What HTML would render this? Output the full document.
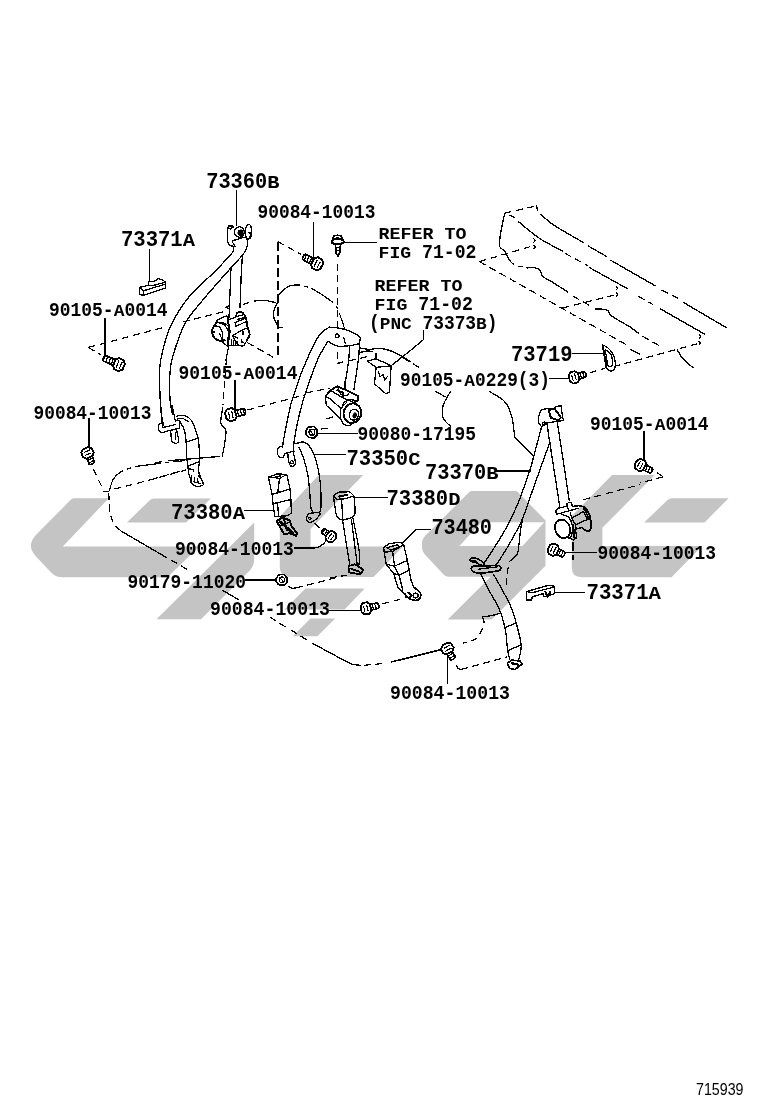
<!DOCTYPE html>
<html><head><meta charset="utf-8"><title>Seat belt diagram</title>
<style>
html,body{margin:0;padding:0;background:#fff;}
body{width:760px;height:1112px;overflow:hidden;font-family:"Liberation Mono",monospace;}
svg{display:block;position:absolute;left:0;top:0;}
.wm{fill:#c4c4c4;stroke:none;}
.t{font-family:"Liberation Mono",monospace;font-weight:bold;fill:#000;}
.l{fill:none;stroke:#000;stroke-width:1.3;stroke-linecap:round;stroke-linejoin:round;}
.f{fill:#000;stroke:#000;stroke-width:0.5;}
.w{fill:#fff;stroke:#000;stroke-width:1.3;stroke-linejoin:round;}
.d{fill:none;stroke:#000;stroke-width:1.2;stroke-dasharray:7 4.5;}
.d2{fill:none;stroke:#000;stroke-width:1.2;stroke-dasharray:22 7;}
.dd{fill:none;stroke:#000;stroke-width:1.2;stroke-dasharray:26 4 4 4;}
.dh{fill:none;stroke:#000;stroke-width:2;stroke-dasharray:9 4;}
.ld{fill:none;stroke:#000;stroke-width:1.2;}
#art{shape-rendering:crispEdges;}
#labels{filter:grayscale(1);}
</style></head><body>
<svg width="760" height="1112" viewBox="0 0 760 1112">
<!-- WATERMARK -->
<g class="wm" id="wm">
<!-- glyph 1 -->
<path d="M74,498.2 L108.8,498.2 L62.8,546.4 L199,546.4 L167.6,577.2 L62,577.2 Q56,577.2 51.6,573 L36.5,557 Q25,545.8 37.1,533.7 L71,499.6 Q72.5,498.2 74,498.2 Z"/>
<path d="M254.2,522.5 L254.2,559 Q254.2,566 249.5,570.7 L201,619.3 L156.5,619.3 Z"/>
<path d="M154,498.4 L210.8,498.4 L186.1,522.5 L126.9,522.5 L150,500 Q151.8,498.4 154,498.4 Z"/>
<!-- glyph 2 -->
<path d="M318.8,475 L363.2,475 L310.5,529 L310.5,546.4 L403,546.4 L373.5,577 L290,577 Q279.8,577 279.8,567 L279.8,516.5 Z"/>
<path d="M305.5,588.6 L364.7,588.6 L344.5,609.4 L284.5,609.4 Z"/>
<path d="M310.5,618.4 L335.1,618.4 L317.4,636.3 L292.7,636.3 Z"/>
<!-- glyph 3 -->
<path d="M472,491 L516.8,491 L545.5,520.5 L545.5,565.8 L491.7,619.6 L447.7,619.6 L490.6,576.7 L448.5,576.7 Q446,576.7 444,575 L424.5,554 Q422,551 422,547 L422,543 Q422,539 425.5,535.5 L469,492.3 Q470.5,491 472,491 Z M481.5,522.3 L459.3,546 L522.4,546 L544.3,522.3 Z" fill-rule="evenodd"/>
<!-- glyph 4 -->
<path d="M612.1,475 L654.7,475 L602.4,527.8 L602.4,546 L702,546 L671.5,577.2 L581.5,577.2 Q571.8,577.2 571.8,567.3 L571.8,516 Z"/>
<!-- dash -->
<path d="M672,498.2 L728.6,498.2 L704.5,522.6 L644.1,522.6 L667.5,500 Q669.5,498.2 672,498.2 Z"/>
</g>

<g id="art">
<path class="ld" d="M236.4,190.0 L236.4,226.0"/>
<path class="l" d="M233.7,246.6 C233.1,246.3 231.2,245.9 230.1,245.2 C229.1,244.4 227.9,243.4 227.4,241.8 C226.9,240.2 227.2,237.6 227.2,235.5 C227.2,233.5 227.2,231.2 227.5,229.6 C227.8,228.0 228.3,226.6 228.9,225.9 C229.6,225.2 230.7,225.1 231.5,225.4 C232.3,225.7 233.3,227.3 233.7,227.6"/>
<circle class="l" cx="230.4" cy="227.5" r="1.6"/>
<ellipse class="l" cx="239.4" cy="232.0" rx="4.9" ry="5.2" transform="rotate(0 239.4 232.0)"/>
<ellipse class="f" cx="240.6" cy="232.8" rx="2.8" ry="3.3" transform="rotate(0 240.6 232.8)"/>
<ellipse class="l" cx="248.3" cy="231.8" rx="2.9" ry="7.3" transform="rotate(5 248.3 231.8)"/>
<path class="l" d="M249.5,232.8 C249.7,233.0 250.5,233.2 250.7,233.9 C250.8,234.7 250.6,236.8 250.4,237.5 C250.2,238.2 249.5,238.2 249.3,238.3" style="stroke-width:2.2"/>
<path class="l" d="M233.7,240.4 L246.3,236.7"/>
<path class="l" d="M233.7,240.4 C233.5,240.6 232.5,240.8 232.5,241.4 C232.5,242.1 233.2,243.4 233.7,244.2 C234.1,245.1 234.9,246.2 235.1,246.6"/>
<path class="l" d="M233.7,246.6 C233.6,247.1 233.5,248.8 233.4,249.7 C233.2,250.6 233.0,251.6 232.9,251.9"/>
<path class="l" d="M247.1,239.5 C247.2,240.3 247.7,242.5 247.5,244.2 C247.3,245.9 246.8,247.9 245.9,249.7 C245.1,251.6 243.0,254.5 242.4,255.4"/>
<path class="l" d="M232.9,252.0 C230.2,255.0 223.6,262.6 216.4,270.0 C209.2,277.4 197.1,287.1 189.5,296.3 C181.9,305.5 175.5,316.1 171.0,325.3 C166.5,334.5 164.4,344.2 162.5,351.6 C160.6,359.1 159.9,363.6 159.5,370.0 C159.1,376.4 159.6,383.0 159.8,390.0 C160.1,397.0 160.4,406.2 161.0,412.0 C161.6,417.8 163.1,422.8 163.5,425.0"/>
<path class="l" d="M242.4,255.4 C240.2,257.8 235.6,262.5 229.0,270.0 C222.4,277.5 209.8,291.5 202.6,300.3 C195.3,309.1 190.1,314.5 185.5,322.6 C180.9,330.7 177.6,341.1 175.0,349.0 C172.4,356.9 171.0,361.6 170.2,370.0 C169.4,378.4 169.6,392.2 170.0,399.5 C170.4,406.8 172.1,411.6 172.5,414.0"/>
<path class="l" d="M242.4,256.0 L241.4,270.0 L240.0,308.0"/>
<path class="l" d="M231.0,268.0 L229.0,318.0"/>
<path class="l" d="M229.5,305.1 L226.0,307.4 L229.0,309.0"/>
<path class="l" d="M217.5,319.7 L226.7,315.8 L228.6,320.1 L235.0,317.1"/>
<path class="l" d="M217.5,319.7 C217.3,320.2 217.2,321.5 216.6,322.6 C216.0,323.7 214.6,324.7 213.8,326.3 C213.0,327.9 211.8,330.3 212.0,332.3 C212.1,334.3 213.4,336.8 214.7,338.3 C216.1,339.7 218.6,340.7 220.3,341.1 C222.0,341.4 224.1,340.4 224.9,340.3" style="stroke-width:1.9"/>
<path class="l" d="M215.2,325.9 C216.0,326.1 218.6,326.1 219.8,327.4 C221.0,328.7 222.2,331.7 222.6,333.7 C222.9,335.7 222.0,338.4 221.9,339.4"/>
<path class="l" d="M236.8,316.4 L243.3,314.8"/>
<path class="l" d="M237.8,319.4 L244.8,317.3"/>
<path class="l" d="M235.5,341.1 L235.5,344.9"/>
<path class="l" d="M237.5,341.5 L237.5,345.1"/>
<path class="l" d="M213.8,332.0 L211.5,332.0" style="stroke-width:2"/>
<path class="l" d="M218.4,322.6 C219.4,323.0 222.4,323.1 224.1,324.7 C225.8,326.2 228.0,329.4 228.6,331.8 C229.1,334.3 227.8,338.0 227.6,339.2"/>
<path class="l" d="M221.4,322.3 C222.4,322.8 226.1,323.8 227.6,325.4 C229.2,327.0 230.1,330.8 230.6,331.8"/>
<path class="l" d="M219.8,333.7 C220.1,334.5 220.9,337.2 221.6,338.3 C222.4,339.4 223.7,340.0 224.1,340.3"/>
<path class="l" d="M227.6,318.0 L229.7,331.8 L227.6,346.1" style="stroke-width:2"/>
<path class="l" d="M236.8,313.0 C237.6,312.8 240.1,311.5 241.4,312.0 C242.8,312.6 244.2,314.4 245.1,316.2 C246.1,317.9 246.6,320.8 247.0,322.6 C247.4,324.5 247.1,325.2 247.5,327.2 C248.0,329.2 249.8,332.5 249.7,334.6 C249.6,336.8 247.4,339.2 247.0,340.1" style="stroke-width:1.9"/>
<path class="l" d="M235.0,322.6 L244.2,318.8"/>
<path class="l" d="M235.9,326.5 L245.3,321.9"/>
<path class="l" d="M235.0,322.6 L235.9,326.5"/>
<path class="l" d="M236.8,313.0 L235.5,317.1"/>
<path class="l" d="M232.4,335.5 L246.1,328.2"/>
<path class="l" d="M232.4,335.5 C232.9,336.4 234.4,339.5 235.5,341.1 C236.5,342.6 237.4,344.1 238.7,344.9 C240.0,345.7 241.9,346.6 243.3,345.8 C244.7,345.0 246.4,341.1 247.0,340.1"/>
<path class="l" d="M235.0,336.9 L237.8,338.3"/>
<path class="l" d="M241.6,339.9 L241.6,342.0 L243.5,342.2"/>
<path class="l" d="M243.0,331.4 L243.0,334.6" style="stroke-width:2"/>
<path class="l" d="M222.1,342.0 L227.6,346.2 L232.2,345.3 L238.7,345.3"/>
<path class="l" d="M231.5,339.2 L231.5,344.9"/>
<path class="l" d="M233.5,341.1 L233.5,344.9"/>
<path class="l" d="M228.6,346.6 L225.8,360.6"/>
<path class="l" d="M160.7,405.0 L162.4,426.3"/>
<path class="l" d="M171.9,405.0 L175.5,421.6"/>
<path class="l" d="M175.5,421.6 C175.7,421.3 176.3,420.2 177.0,420.2 C177.7,420.2 179.1,420.3 179.6,421.6 C180.1,422.9 179.8,427.0 179.8,428.1"/>
<path class="l" d="M179.8,428.1 L166.6,431.3 L161.2,432.9"/>
<path class="l" d="M162.4,422.8 C161.9,423.0 159.9,423.4 159.2,424.2 C158.6,425.0 158.5,426.4 158.5,427.5 C158.5,428.6 158.8,429.9 159.2,430.8 C159.7,431.7 160.9,432.6 161.2,432.9"/>
<path class="l" d="M163.0,427.5 L175.5,424.5"/>
<path class="l" d="M170.7,431.6 C170.8,432.7 171.1,436.4 171.3,438.2 C171.6,439.9 171.3,441.1 172.3,441.9 C173.2,442.8 175.9,443.4 177.0,443.1 C178.1,442.8 178.7,442.2 178.7,440.1 C178.6,437.9 177.0,432.1 176.6,430.5"/>
<path class="l" d="M175.5,432.5 L175.5,439.3"/>
<path class="l" d="M176.6,416.2 C177.9,416.1 181.9,414.7 184.3,415.4 C186.8,416.1 189.7,418.2 191.4,420.4 C193.2,422.6 193.9,425.8 195.0,428.7 C196.1,431.5 197.3,434.6 198.0,437.6 C198.7,440.5 198.9,442.6 199.1,446.4 C199.4,450.3 199.6,456.5 199.5,460.7 C199.4,464.8 198.1,468.0 198.6,471.3 C199.0,474.7 201.3,478.7 202.1,480.8 C202.9,482.9 203.3,483.6 203.5,484.1"/>
<path class="l" d="M177.2,419.0 C178.2,418.9 181.4,418.2 183.2,418.6 C184.9,419.1 187.1,421.1 187.9,421.6"/>
<path class="l" d="M179.6,421.0 C180.4,422.5 183.3,426.4 184.3,429.9 C185.4,433.3 185.7,437.4 186.1,441.7 C186.5,446.1 186.4,451.8 186.7,455.9 C187.0,460.1 187.5,463.4 187.9,466.6 C188.3,469.7 188.5,472.3 189.1,474.9 C189.7,477.4 191.1,480.8 191.4,482.0"/>
<path class="l" d="M186.1,442.3 L198.0,438.2"/>
<path class="l" d="M188.5,466.0 L198.8,461.8"/>
<path class="l" d="M191.7,476.1 C191.5,477.0 190.2,480.3 190.9,482.0 C191.5,483.7 193.8,485.6 195.6,486.2 C197.4,486.9 200.2,486.2 201.5,485.8 C202.8,485.3 204.0,485.1 203.5,483.4 C203.1,481.7 199.6,477.1 198.8,475.8"/>
<path class="l" d="M194.4,477.8 L194.1,482.0 L197.4,482.6"/>
<path class="l" d="M197.4,479.0 L198.6,483.2 L200.9,483.2"/>
<path class="l" d="M189.1,468.9 L193.2,469.5 L193.2,471.3"/>
<path class="l" d="M168.4,460.7 L219.3,456.5"/>
<path class="l" d="M155.3,463.0 L161.8,461.6"/>
<path class="d" d="M151.2,479.6 L183.8,470.1"/>
<path class="l" d="M222.8,407.4 C222.5,409.9 220.3,418.9 220.8,422.8 C221.3,426.6 225.2,426.9 225.8,430.5 C226.4,434.0 225.2,439.7 224.6,444.1 C224.0,448.4 222.6,454.4 222.2,456.5"/>
<path class="l" d="M235.0,381.0 L235.0,409.0" style="stroke-width:2"/>
<g transform="translate(230.8 414.7) rotate(-13) scale(1.0)"><path d="M4,-3.2 L14,-3 Q16,0 14,3 L4,3.2 Z" fill="#fff" stroke="#000" stroke-width="1.7" stroke-linejoin="round"/><path d="M7,-3 L7.6,3" stroke="#000" stroke-width="1.3" fill="none"/><path d="M10,-3 L10.6,3" stroke="#000" stroke-width="1.3" fill="none"/><path d="M13,-3 L13.6,3" stroke="#000" stroke-width="1.3" fill="none"/><path d="M-5.2,-3 L-2.5,-6 L2.5,-6.2 L5,-3.5 L5.2,3.5 L2.5,6.2 L-2.5,6 L-5.2,3 Z" fill="#fff" stroke="#000" stroke-width="1.9" stroke-linejoin="round"/><path d="M-1.8,-3.5 L-1.8,3.5 M1.6,-3.8 L1.6,3.8" stroke="#000" stroke-width="1.2" fill="none"/></g>
<path class="l" d="M149.5,249.5 L149.5,281.8"/>
<path class="l" d="M139.5,287.4 L148.5,285.2 L148.5,281.8 L152.1,281.8 L156.5,280.4 L157.8,278.5 L161.3,279.5 L165.2,281.7 L165.2,288.2 L143.4,295.3 L139.5,294.5 Z"/>
<path class="l" d="M148.5,285.2 L152.1,285.8 L165.2,282.3"/>
<path class="l" d="M143.4,295.3 L143.4,290.8 L139.5,287.4"/>
<path class="l" d="M143.4,290.8 L165.2,284.2"/>
<path class="l" d="M105.0,318.9 L105.0,356.1" style="stroke-width:2"/>
<g transform="translate(119.0 364.7) rotate(204) scale(1.0)"><path d="M4,-3.2 L16,-3 Q18,0 16,3 L4,3.2 Z" fill="#fff" stroke="#000" stroke-width="1.7" stroke-linejoin="round"/><path d="M7,-3 L7.6,3" stroke="#000" stroke-width="1.3" fill="none"/><path d="M10,-3 L10.6,3" stroke="#000" stroke-width="1.3" fill="none"/><path d="M13,-3 L13.6,3" stroke="#000" stroke-width="1.3" fill="none"/><path d="M16,-3 L16.6,3" stroke="#000" stroke-width="1.3" fill="none"/><path d="M-5.2,-3 L-2.5,-6 L2.5,-6.2 L5,-3.5 L5.2,3.5 L2.5,6.2 L-2.5,6 L-5.2,3 Z" fill="#fff" stroke="#000" stroke-width="1.9" stroke-linejoin="round"/><path d="M-1.8,-3.5 L-1.8,3.5 M1.6,-3.8 L1.6,3.8" stroke="#000" stroke-width="1.2" fill="none"/></g>
<path class="d" d="M88.4,347.4 L163.0,327.5"/>
<path class="d" d="M183.0,322.0 L228.0,310.5"/>
<path class="d" d="M88.4,347.4 L101.6,355.3"/>
<path class="l" d="M89.0,418.6 L89.0,447.5" style="stroke-width:2"/>
<g transform="translate(87.5 452.8) rotate(67) scale(0.95)"><path d="M4,-3.2 L12,-3 Q14,0 12,3 L4,3.2 Z" fill="#fff" stroke="#000" stroke-width="1.7" stroke-linejoin="round"/><path d="M7,-3 L7.6,3" stroke="#000" stroke-width="1.3" fill="none"/><path d="M10,-3 L10.6,3" stroke="#000" stroke-width="1.3" fill="none"/><path d="M-5.2,-3 L-2.5,-6 L2.5,-6.2 L5,-3.5 L5.2,3.5 L2.5,6.2 L-2.5,6 L-5.2,3 Z" fill="#fff" stroke="#000" stroke-width="1.9" stroke-linejoin="round"/><path d="M-1.8,-3.5 L-1.8,3.5 M1.6,-3.8 L1.6,3.8" stroke="#000" stroke-width="1.2" fill="none"/></g>
<path class="d" d="M93.4,469.2 L101.3,485.7"/>
<path class="l" d="M103.3,491.5 L108.6,491.5"/>
<path class="dd" d="M109.5,491.0 C110.1,489.1 111.1,482.9 113.0,479.7 C114.9,476.5 117.5,473.9 121.0,471.8 C124.5,469.7 129.2,468.2 134.0,467.0 C138.8,465.8 141.5,465.7 150.0,464.6 C158.5,463.5 179.2,461.2 185.0,460.5"/>
<path class="d" d="M114.5,489.0 L146.0,481.0 L186.0,470.0"/>
<path class="l" d="M313.5,222.4 L313.5,258.3"/>
<g transform="translate(317.1 263.8) rotate(208) scale(1.0)"><path d="M4,-3.2 L15,-3 Q17,0 15,3 L4,3.2 Z" fill="#fff" stroke="#000" stroke-width="1.7" stroke-linejoin="round"/><path d="M7,-3 L7.6,3" stroke="#000" stroke-width="1.3" fill="none"/><path d="M10,-3 L10.6,3" stroke="#000" stroke-width="1.3" fill="none"/><path d="M13,-3 L13.6,3" stroke="#000" stroke-width="1.3" fill="none"/><path d="M-5.2,-3 L-2.5,-6 L2.5,-6.2 L5,-3.5 L5.2,3.5 L2.5,6.2 L-2.5,6 L-5.2,3 Z" fill="#fff" stroke="#000" stroke-width="1.9" stroke-linejoin="round"/><path d="M-1.8,-3.5 L-1.8,3.5 M1.6,-3.8 L1.6,3.8" stroke="#000" stroke-width="1.2" fill="none"/></g>
<path class="dh" d="M277.9,241.7 L277.9,359.0"/>
<path class="d" d="M277.9,241.7 L301.4,254.6"/>
<path class="w" d="M335.5,243.9 L335.9,252.6 L337.9,256.2 L339.9,252.6 L340.5,243.9" style="stroke-width:1.7"/>
<path class="l" d="M335.7,247.5 L340.3,247.5"/>
<path class="l" d="M335.9,250.8 L340.1,250.1"/>
<path class="w" d="M332.1,240.8 C332.4,240.1 332.8,237.3 333.7,236.4 C334.6,235.5 336.1,235.3 337.4,235.3 C338.6,235.3 340.4,235.5 341.4,236.4 C342.3,237.3 342.9,240.1 343.2,240.8" style="stroke-width:1.8"/>
<ellipse class="w" cx="337.6" cy="241.6" rx="6.1" ry="2.5" transform="rotate(0 337.6 241.6)" style="stroke-width:1.9"/>
<path class="l" d="M334.2,239.5 L341.1,239.5"/>
<path class="l" d="M336.3,237.4 L338.9,238.2"/>
<path class="l" d="M343.8,242.5 L376.1,242.5"/>
<path class="d" d="M337.4,263.8 L337.4,334.7"/>
<path class="dd" d="M277.9,296.1 C279.5,294.5 284.2,288.7 287.6,286.8 C291.1,285.0 294.7,284.7 298.7,285.0 C302.7,285.3 307.6,287.0 311.6,288.7 C315.6,290.4 318.6,292.4 322.6,295.1 C326.6,297.9 332.5,301.4 335.5,305.3 C338.6,309.1 339.5,314.2 341.1,318.2 C342.6,322.1 344.1,327.4 344.7,329.2"/>
<path class="l" d="M260.0,300.7 C261.2,300.7 264.8,300.5 267.4,300.8 C270.0,301.2 274.3,302.4 275.7,302.7"/>
<path class="l" d="M277.9,301.6 C277.1,303.7 273.2,310.3 273.3,314.5 C273.4,318.6 276.9,324.2 278.4,326.4 C279.9,328.7 281.5,327.5 282.1,327.7"/>
<path class="l" d="M329.5,327.1 C327.9,328.3 323.2,330.1 320.0,334.2 C316.8,338.3 313.6,345.0 310.5,351.6 C307.4,358.2 303.6,367.3 301.1,373.7 C298.6,380.1 297.1,385.2 295.5,390.0 C293.9,394.8 292.7,397.3 291.3,402.6 C289.9,407.9 288.3,415.8 287.1,421.6 C285.9,427.4 284.8,433.2 284.0,437.4 C283.2,441.6 282.8,445.4 282.5,447.0"/>
<path class="l" d="M327.9,341.3 C326.3,344.1 321.3,351.7 318.4,357.9 C315.5,364.1 312.8,372.1 310.5,378.4 C308.2,384.7 306.1,390.7 304.5,395.8 C302.9,400.9 302.1,403.8 300.8,409.0 C299.5,414.2 297.7,421.2 296.6,426.8 C295.5,432.4 294.5,438.6 294.0,442.6 C293.5,446.6 293.7,449.6 293.6,451.0"/>
<path class="l" d="M329.5,327.1 C331.6,327.4 337.6,327.5 342.1,328.7 C346.6,329.9 353.3,332.7 356.3,334.2 C359.4,335.7 359.7,337.1 360.4,337.7"/>
<path class="l" d="M360.4,337.7 L359.5,343.7 L358.7,357.9"/>
<path class="l" d="M327.9,341.3 C329.5,342.1 333.7,345.3 337.4,346.1 C341.1,346.8 346.3,346.0 350.0,345.6 C353.7,345.2 357.9,344.0 359.5,343.7"/>
<circle class="l" cx="337.1" cy="335.8" r="1.9"/>
<path class="d" d="M343.7,337.4 L345.3,343.7"/>
<path class="d" d="M337.4,351.6 L337.4,358.7"/>
<path class="l" d="M349.7,346.5 L348.7,360.3 L345.3,383.2"/>
<path class="l" d="M358.7,357.9 L353.9,389.5"/>
<path class="l" d="M337.4,363.4 L342.9,362.0"/>
<path class="d" d="M349.2,360.7 L368.9,356.3"/>
<path class="d" d="M305.8,392.9 L329.5,388.2"/>
<path class="l" d="M360.3,348.1 C361.7,348.3 365.9,349.3 368.9,349.4 C372.0,349.4 375.3,348.3 378.4,348.4 C381.6,348.5 384.5,348.9 387.9,350.0 C391.3,351.1 395.3,352.8 398.9,354.7 C402.6,356.6 408.2,360.3 410.0,361.4"/>
<path class="l" d="M359.5,352.5 C360.8,352.3 365.3,351.1 367.4,350.9 C369.5,350.8 371.3,351.5 372.1,351.6"/>
<path class="l" d="M367.4,361.1 L376.1,358.7 L391.1,365.8 L389.5,392.6 L385.5,393.4 L374.5,383.9 L376.1,367.4 Z"/>
<path class="l" d="M376.1,367.4 L391.1,365.8"/>
<path class="l" d="M378.4,372.1 L380.0,376.8 L383.2,374.5 L384.7,380.0 L387.1,376.8"/>
<path class="l" d="M376.0,353.9 L376.0,359.5" style="stroke-width:2"/>
<path class="l" d="M410.0,350.8 L391.1,365.8"/>
<path class="l" d="M423.6,330.4 L423.6,339.5 L410.0,350.8"/>
<path class="d" d="M242.6,304.7 C244.2,304.2 249.1,302.2 252.0,301.5 C254.9,300.8 258.7,300.8 260.0,300.7"/>
<path class="l" d="M325.5,396.6 L330.3,390.3 L337.4,386.3 L344.5,389.5 L357.9,395.8 L357.9,400.5 L353.9,402.4" style="stroke-width:1.8"/>
<path class="l" d="M337.4,390.3 L342.9,392.6 L342.9,397.4" style="stroke-width:2"/>
<path class="l" d="M325.5,396.6 L326.3,405.3 L340.5,418.7 L340.8,408.4 L330.3,398.9 L325.5,396.6"/>
<path class="l" d="M330.3,390.3 L342.1,397.4 L353.9,402.4"/>
<path class="l" d="M340.8,408.4 L346.8,402.1"/>
<path class="l" d="M337.4,386.3 L340.5,394.2 L346.8,395.8 L350.0,391.8"/>
<path class="l" d="M344.5,381.6 L345.3,389.5" style="stroke-width:2"/>
<ellipse class="w" cx="352.4" cy="413.2" rx="8.8" ry="9.8" transform="rotate(20 352.4 413.2)" style="stroke-width:1.9"/>
<path class="l" d="M342.1,407.6 C342.5,406.7 343.0,403.4 344.5,402.1 C345.9,400.8 348.7,399.9 350.8,399.7 C352.9,399.6 356.1,401.1 357.1,401.3"/>
<ellipse class="l" cx="353.9" cy="414.7" rx="4.7" ry="5.4" transform="rotate(20 353.9 414.7)"/>
<ellipse class="f" cx="354.7" cy="415.5" rx="1.9" ry="2.8" transform="rotate(20 354.7 415.5)"/>
<path class="l" d="M340.5,418.7 C341.1,419.6 342.1,423.1 343.7,424.2 C345.3,425.3 348.4,425.9 350.0,425.5 C351.6,425.1 352.9,422.4 353.5,421.8"/>
<path class="l" d="M321.6,428.9 L327.9,428.2"/>
<path class="l" d="M327.1,418.7 L332.6,417.1"/>
<path class="l" d="M318.4,433.5 L357.0,433.5"/>
<g transform="translate(311.6 432.2) scale(0.95)"><path d="M-6,-1 L-3.5,-5.5 L2.5,-6 L6,-2 L6,3 L2.5,6 L-3,5.5 L-6,2.5 Z" fill="#fff" stroke="#000" stroke-width="1.8" stroke-linejoin="round"/><ellipse cx="0.3" cy="0" rx="3" ry="3.2" fill="none" stroke="#000" stroke-width="1.3"/><path d="M-1.5,-2 L1.5,2.2" stroke="#000" stroke-width="1.1"/></g>
<path class="d" d="M504.7,213.2 L536.3,205.8"/>
<path class="l" d="M536.3,205.8 L537.8,210.4"/>
<path class="l" d="M504.7,213.2 C504.2,215.6 502.5,222.5 501.6,227.9 C500.7,233.3 498.9,241.9 499.5,245.8 C500.0,249.6 503.2,248.8 504.7,251.1 C506.3,253.3 508.2,258.1 508.9,259.5"/>
<path class="l" d="M540.5,214.2 C542.6,216.0 548.4,221.4 553.2,224.7 C557.9,228.1 563.9,231.2 568.9,234.2 C574.0,237.2 581.2,241.2 583.7,242.6"/>
<path class="d2" d="M587.9,245.8 L610.0,258.4"/>
<path class="l" d="M510.0,215.3 L514.6,217.8"/>
<path class="l" d="M518.4,221.6 C521.9,224.4 532.1,233.5 539.5,238.4 C546.8,243.3 558.8,248.9 562.6,251.1"/>
<path class="d" d="M564.7,253.2 L587.9,265.8"/>
<path class="d" d="M508.9,259.5 C509.8,260.4 511.9,263.5 514.2,264.7 C516.5,266.0 521.2,266.7 522.6,267.1"/>
<path class="l" d="M526.8,267.9 C528.2,267.9 533.0,267.4 535.3,267.9 C537.5,268.4 539.3,269.6 540.5,271.1 C541.8,272.5 540.5,274.4 542.6,276.3 C544.7,278.2 548.9,280.0 553.2,282.6 C557.4,285.3 565.4,290.5 567.9,292.1"/>
<path class="d" d="M573.2,296.3 L591.1,306.4"/>
<path class="l" d="M595.3,308.9 C597.2,309.1 604.0,308.8 606.8,310.0 C609.6,311.2 608.2,313.5 612.1,316.3 C616.0,319.1 627.0,325.1 630.0,326.8"/>
<path class="d" d="M479.5,261.6 L533.2,245.8"/>
<path class="l" d="M533.8,238.8 L535.3,240.5 L533.8,242.2"/>
<path class="l" d="M533.8,245.2 L535.3,246.8 L533.8,248.5"/>
<path class="d" d="M479.5,261.6 L630.0,346.8"/>
<path class="d" d="M562.6,307.9 L617.4,294.2"/>
<path class="l" d="M616.3,286.4 L617.8,288.1 L616.3,289.8"/>
<path class="l" d="M616.3,292.7 L617.8,294.4 L616.3,296.1"/>
<path class="l" d="M611.1,260.5 L655.3,285.8"/>
<path class="d" d="M661.6,290.0 L678.4,298.4"/>
<path class="l" d="M683.7,302.6 L726.8,327.9"/>
<path class="l" d="M590.0,267.9 L627.9,288.9"/>
<path class="d" d="M638.4,296.3 L653.2,304.7"/>
<path class="l" d="M660.5,308.9 L704.7,334.2"/>
<path class="d" d="M642.6,336.3 L659.5,345.8"/>
<path class="l" d="M630.0,326.8 L638.4,333.2"/>
<path class="l" d="M631.1,349.6 L639.5,354.2"/>
<path class="l" d="M699.1,334.8 L700.5,336.5 L699.1,338.2"/>
<path class="l" d="M699.1,341.6 L700.5,343.3 L699.1,344.9"/>
<path class="d" d="M697.4,343.7 L616.3,365.8"/>
<path class="l" d="M677.4,350.0 C678.2,351.4 680.0,355.4 682.6,358.4 C685.3,361.4 691.4,366.3 693.2,367.9"/>
<path class="l" d="M380.0,348.4 C381.8,348.8 386.7,349.1 390.5,350.5 C394.4,351.9 401.1,355.8 403.2,356.8"/>
<path class="d" d="M403.2,357.9 L418.9,367.4"/>
<path class="l" d="M435.8,391.6 L445.3,396.8"/>
<path class="l" d="M450.5,391.6 C449.3,393.9 444.4,400.9 443.2,405.3 C441.9,409.6 441.9,414.4 443.2,417.9 C444.4,421.4 449.3,424.9 450.5,426.3"/>
<path class="l" d="M489.5,391.6 C491.9,393.2 500.5,397.0 504.2,401.1 C507.9,405.1 509.8,409.8 511.6,415.8 C513.3,421.8 514.2,433.3 514.7,436.8"/>
<path class="l" d="M514.7,436.8 L533.7,455.8"/>
<path class="l" d="M496.8,471.0 L530.5,471.0" style="stroke-width:2"/>
<path class="l" d="M538.8,415.8 L540.7,410.3 L547.1,408.4 L552.6,409.3 L556.3,406.6 L560.9,405.7 L562.8,417.6 L563.7,420.4 L558.2,421.3 L545.3,423.2 L541.6,426.8 L538.8,423.2 Z"/>
<path class="l" d="M548.9,410.3 L554.5,408.4 L560.9,417.6 L558.2,420.4 L550.8,417.6 Z" style="stroke-width:2"/>
<circle class="l" cx="544.3" cy="423.5" r="1.5"/>
<path class="l" d="M541.6,426.8 C540.4,431.4 536.2,447.1 534.2,454.5 C532.2,461.9 532.4,462.7 529.6,471.0 C526.8,479.3 521.7,494.4 517.6,504.2 C513.5,514.0 508.9,522.7 505.0,530.0 C501.1,537.3 497.4,542.6 494.0,548.0 C490.6,553.4 486.1,560.2 484.5,562.6"/>
<path class="l" d="M549.9,442.5 C548.8,445.4 546.0,452.8 543.4,460.0 C540.8,467.2 537.6,476.3 534.2,485.8 C530.8,495.3 526.1,509.7 523.2,517.1 C520.4,524.5 519.8,524.9 517.1,530.0 C514.4,535.1 510.3,542.4 507.0,548.0 C503.7,553.6 498.8,561.1 497.1,563.7"/>
<path class="l" d="M547.1,424.1 C547.6,427.3 548.6,435.3 549.9,443.4 C551.1,451.6 552.8,462.1 554.5,472.9 C556.2,483.6 559.1,502.1 560.0,507.9"/>
<path class="l" d="M557.2,421.3 C558.3,428.4 561.7,450.5 563.7,463.7 C565.7,476.9 568.3,494.4 569.2,500.5"/>
<path class="l" d="M555.8,510.9 L557.8,508.3 L566.3,506.3 L568.3,502.4 L571.6,503.0 L572.2,506.3 L579.5,505.7"/>
<path class="l" d="M555.8,510.9 L556.4,514.2 L561.7,512.9 L570.9,510.3 L578.2,508.3"/>
<path class="l" d="M567.0,503.7 L568.3,509.6"/>
<path class="l" d="M579.5,505.7 C580.4,506.0 583.1,506.2 584.7,507.6 C586.4,509.1 588.4,512.0 589.3,514.2 C590.3,516.4 590.3,518.8 590.7,520.8 C591.0,522.8 591.5,524.4 591.3,526.1 C591.1,527.7 590.4,530.0 589.3,530.7 C588.2,531.3 585.9,530.5 584.7,530.0 C583.5,529.5 582.5,527.8 582.1,527.4" style="stroke-width:1.9"/>
<path class="l" d="M585.4,509.6 L588.9,519.5"/>
<path class="l" d="M583.4,508.3 L586.1,512.9"/>
<path class="l" d="M572.9,525.4 L574.5,537.9" style="stroke-width:2.2"/>
<path class="l" d="M582.1,527.4 L575.5,529.3 L576.8,537.9 L573.6,539.9 L568.3,537.9"/>
<path class="l" d="M571.6,518.2 L583.4,511.6 L587.4,519.5 L575.5,524.7 Z"/>
<path class="l" d="M570.3,512.9 L571.6,518.2"/>
<path class="l" d="M575.5,524.7 L576.2,529.3"/>
<path class="l" d="M561.7,514.5 C562.8,514.9 566.5,515.1 568.3,516.8 C570.0,518.6 571.7,521.7 572.2,524.7 C572.8,527.8 572.2,533.0 571.6,535.3 C570.9,537.6 568.8,538.0 568.3,538.6"/>
<ellipse class="w" cx="562.6" cy="528.9" rx="7.4" ry="9.5" transform="rotate(-20 562.6 528.9)" style="stroke-width:1.8"/>
<path class="dh" d="M572.9,541.8 L572.9,560.3"/>
<path class="d" d="M583.4,499.7 L640.0,484.6"/>
<path class="l" d="M566.3,552.5 L596.6,552.5"/>
<g transform="translate(553.2 549.7) rotate(25) scale(0.95)"><path d="M4,-3.2 L12,-3 Q14,0 12,3 L4,3.2 Z" fill="#fff" stroke="#000" stroke-width="1.7" stroke-linejoin="round"/><path d="M7,-3 L7.6,3" stroke="#000" stroke-width="1.3" fill="none"/><path d="M10,-3 L10.6,3" stroke="#000" stroke-width="1.3" fill="none"/><path d="M-5.2,-3 L-2.5,-6 L2.5,-6.2 L5,-3.5 L5.2,3.5 L2.5,6.2 L-2.5,6 L-5.2,3 Z" fill="#fff" stroke="#000" stroke-width="1.9" stroke-linejoin="round"/><path d="M-1.8,-3.5 L-1.8,3.5 M1.6,-3.8 L1.6,3.8" stroke="#000" stroke-width="1.2" fill="none"/></g>
<path class="w" d="M602.5,345.1 C603.0,344.4 607.7,347.6 608.9,348.8 C610.2,350.0 612.8,353.4 613.6,355.3 C614.3,357.1 615.4,362.8 615.4,364.5 C615.4,366.2 614.2,369.2 613.6,370.0 C612.9,370.8 610.7,371.2 609.9,370.9 C609.0,370.6 606.8,369.1 606.2,367.2 C605.5,365.4 604.8,357.8 604.3,355.3 C603.9,352.7 602.0,345.9 602.5,345.1 Z"/>
<path class="l" d="M605.3,349.7 C605.8,349.6 609.9,352.8 610.8,354.3 C611.6,355.8 612.5,361.2 612.6,362.6 C612.7,364.0 612.2,366.0 611.7,366.3 C611.2,366.6 608.7,366.7 608.0,365.4 C607.4,364.1 606.5,357.1 606.2,355.3 C605.9,353.4 604.7,349.8 605.3,349.7 Z"/>
<path class="l" d="M602.7,345.7 L604.5,355.6 L606.4,367.2" style="stroke-width:2"/>
<path class="l" d="M573.0,353.5 L603.1,353.5"/>
<path class="l" d="M550.0,378.5 L568.4,378.5"/>
<path class="d" d="M589.6,372.8 L605.3,368.2"/>
<path class="l" d="M644.0,431.7 L644.0,460.3" style="stroke-width:2"/>
<g transform="translate(574.0 377.4) rotate(-16) scale(0.95)"><path d="M4,-3.2 L12,-3 Q14,0 12,3 L4,3.2 Z" fill="#fff" stroke="#000" stroke-width="1.7" stroke-linejoin="round"/><path d="M7,-3 L7.6,3" stroke="#000" stroke-width="1.3" fill="none"/><path d="M10,-3 L10.6,3" stroke="#000" stroke-width="1.3" fill="none"/><path d="M-5.2,-3 L-2.5,-6 L2.5,-6.2 L5,-3.5 L5.2,3.5 L2.5,6.2 L-2.5,6 L-5.2,3 Z" fill="#fff" stroke="#000" stroke-width="1.9" stroke-linejoin="round"/><path d="M-1.8,-3.5 L-1.8,3.5 M1.6,-3.8 L1.6,3.8" stroke="#000" stroke-width="1.2" fill="none"/></g>
<g transform="translate(640.3 464.9) rotate(28) scale(0.95)"><path d="M4,-3.2 L13,-3 Q15,0 13,3 L4,3.2 Z" fill="#fff" stroke="#000" stroke-width="1.7" stroke-linejoin="round"/><path d="M7,-3 L7.6,3" stroke="#000" stroke-width="1.3" fill="none"/><path d="M10,-3 L10.6,3" stroke="#000" stroke-width="1.3" fill="none"/><path d="M13,-3 L13.6,3" stroke="#000" stroke-width="1.3" fill="none"/><path d="M-5.2,-3 L-2.5,-6 L2.5,-6.2 L5,-3.5 L5.2,3.5 L2.5,6.2 L-2.5,6 L-5.2,3 Z" fill="#fff" stroke="#000" stroke-width="1.9" stroke-linejoin="round"/><path d="M-1.8,-3.5 L-1.8,3.5 M1.6,-3.8 L1.6,3.8" stroke="#000" stroke-width="1.2" fill="none"/></g>
<path class="d" d="M663.0,476.8 L652.0,469.0"/>
<path class="d" d="M663.0,476.8 L640.0,483.0"/>
<path class="l" d="M282.2,446.6 C281.6,446.7 279.4,446.6 278.6,447.5 C277.7,448.4 277.2,450.6 277.3,452.1 C277.4,453.6 278.2,455.8 279.1,456.7 C280.0,457.6 282.2,457.5 282.8,457.6"/>
<path class="l" d="M282.8,457.6 L285.4,453.2 L294.2,451.2"/>
<path class="l" d="M287.8,453.9 C288.0,455.5 288.3,461.1 289.1,463.2 C289.8,465.2 291.0,466.4 292.0,466.5 C293.0,466.5 295.1,465.8 295.3,463.5 C295.6,461.3 293.8,454.8 293.5,453.0"/>
<circle class="l" cx="292.0" cy="462.2" r="1.5"/>
<path class="l" d="M295.1,443.8 C296.5,443.5 301.1,441.7 303.4,442.0 C305.7,442.3 307.1,443.4 308.9,445.7 C310.8,448.0 312.8,451.0 314.5,455.8 C316.2,460.5 318.0,468.1 319.1,474.2 C320.2,480.4 320.6,487.1 320.9,492.6 C321.2,498.2 321.2,503.8 320.9,507.4 C320.6,510.9 319.4,512.7 319.1,513.8"/>
<path class="l" d="M298.8,447.5 C299.6,449.2 301.9,452.9 303.4,457.6 C305.0,462.4 307.0,469.9 308.0,476.1 C309.1,482.2 309.4,489.3 309.9,494.5 C310.3,499.7 310.2,504.3 310.8,507.4 C311.4,510.4 313.1,512.0 313.6,512.9"/>
<path class="l" d="M314.5,454.5 L345.8,454.5"/>
<path class="l" d="M312.6,512.9 C311.1,513.1 308.9,513.3 308.0,514.2 C307.2,515.0 306.1,518.3 306.2,519.3 C306.3,520.4 308.0,521.9 308.9,522.1 C309.9,522.4 312.2,522.0 313.6,521.2 C314.9,520.3 318.3,516.9 319.1,515.8 C319.9,514.7 320.5,513.3 319.6,512.9 C318.8,512.5 314.2,512.7 312.6,512.9 Z"/>
<circle class="l" cx="309.9" cy="518.4" r="1.1"/>
<path class="d" d="M314.5,523.0 L320.4,528.9"/>
<path class="l" d="M294.2,547.9 C297.6,547.9 309.9,548.4 314.5,547.9 C319.1,547.4 319.8,546.4 321.8,545.1 C323.8,543.9 325.7,541.3 326.4,540.5"/>
<path class="l" d="M268.4,477.0 L277.6,473.8 L286.8,474.6 L279.5,478.3 Z"/>
<path class="l" d="M274.9,477.2 L280.4,475.9"/>
<path class="l" d="M268.4,477.0 L272.1,494.5 L273.0,503.7 L274.9,516.6 L287.8,515.7 L291.4,512.9 L290.9,500.0 L290.0,488.9 L286.8,474.6"/>
<path class="l" d="M272.1,494.5 L290.0,488.9"/>
<path class="l" d="M273.0,503.7 L290.9,499.6"/>
<path class="l" d="M279.5,478.3 L277.6,493.6"/>
<path class="l" d="M277.6,503.7 L278.6,516.2"/>
<path class="l" d="M276.7,521.2 L282.2,517.5 L289.6,520.3 L291.4,525.8 L297.0,533.2 L296.1,535.9 L289.6,533.2 L284.1,534.1 Z" style="stroke-width:2"/>
<path class="l" d="M280.4,522.1 L293.3,533.2" style="stroke-width:2.5"/>
<path class="l" d="M284.1,519.3 L286.8,530.4" style="stroke-width:2"/>
<path class="l" d="M279.5,525.8 L289.6,522.1"/>
<path class="l" d="M244.8,510.5 L272.1,510.5"/>
<path class="l" d="M333.3,495.5 L339.2,492.1 L349.7,491.8 L353.9,495.8 L345.8,498.7 L337.2,499.3 Z"/>
<path class="l" d="M339.2,496.6 L347.1,494.9" style="stroke-width:2"/>
<path class="l" d="M333.3,495.5 C333.6,497.3 335.4,510.6 335.9,512.9 C336.4,515.2 337.5,517.4 338.2,518.2 C338.8,518.9 342.1,519.9 342.5,520.1"/>
<path class="l" d="M353.9,495.8 C354.1,497.5 355.2,510.7 355.0,512.9 C354.8,515.1 353.0,516.8 351.7,517.5 C350.5,518.2 343.4,519.9 342.5,520.1"/>
<path class="l" d="M341.6,499.5 L342.8,519.5"/>
<path class="l" d="M342.5,520.1 L349.7,564.2"/>
<path class="l" d="M353.0,518.2 C354.1,524.1 358.7,545.8 359.6,553.7 C360.5,561.6 358.8,563.6 358.7,565.5"/>
<path class="l" d="M351.4,519.5 L357.2,564.2"/>
<path class="l" d="M355.0,497.5 L387.2,497.5"/>
<g transform="translate(331.0 536.8) rotate(218) scale(0.9)"><path d="M4,-3.2 L11,-3 Q13,0 11,3 L4,3.2 Z" fill="#fff" stroke="#000" stroke-width="1.7" stroke-linejoin="round"/><path d="M7,-3 L7.6,3" stroke="#000" stroke-width="1.3" fill="none"/><path d="M10,-3 L10.6,3" stroke="#000" stroke-width="1.3" fill="none"/><path d="M-5.2,-3 L-2.5,-6 L2.5,-6.2 L5,-3.5 L5.2,3.5 L2.5,6.2 L-2.5,6 L-5.2,3 Z" fill="#fff" stroke="#000" stroke-width="1.9" stroke-linejoin="round"/><path d="M-1.8,-3.5 L-1.8,3.5 M1.6,-3.8 L1.6,3.8" stroke="#000" stroke-width="1.2" fill="none"/></g>
<path class="l" d="M383.4,547.6 L388.9,543.9 L400.0,542.1 L403.7,544.9 L392.6,551.3 L385.3,552.2 Z"/>
<path class="l" d="M387.1,547.6 L397.2,544.9 L399.1,546.7 L390.8,550.4 Z"/>
<path class="l" d="M383.4,547.6 L386.2,564.2 L393.6,573.4 L398.2,588.2 L404.6,593.7"/>
<path class="l" d="M403.7,544.9 L407.4,560.5 L411.1,580.8 L413.8,587.2"/>
<path class="l" d="M386.2,564.2 L394.5,566.1 L407.4,560.5"/>
<path class="l" d="M393.6,573.4 L399.1,575.3 L409.6,570.1"/>
<path class="l" d="M392.6,551.3 L394.5,566.1 L399.1,575.3 L402.8,590.0"/>
<path class="l" d="M404.6,593.7 C405.1,594.3 405.5,596.2 407.4,597.4 C409.2,598.5 413.5,600.5 415.7,600.5 C417.8,600.5 419.5,598.7 420.3,597.4 C421.0,596.1 421.3,594.5 420.3,592.8 C419.2,591.1 414.9,588.2 413.8,587.2" style="stroke-width:1.8"/>
<circle class="l" cx="415.7" cy="595.5" r="2.4"/>
<path class="l" d="M408.3,592.8 L412.0,595.5 L409.2,597.4" style="stroke-width:2"/>
<path class="l" d="M401.8,543.9 L416.6,529.2 L430.4,529.2"/>
<path class="l" d="M330.0,610.5 L360.4,610.5"/>
<path class="d" d="M382.5,603.8 L407.4,597.4"/>
<path class="l" d="M348.4,566.1 L354.9,564.2 L363.2,569.7 L360.4,574.3 L349.3,572.5 Z" style="stroke-width:1.8"/>
<path class="l" d="M351.2,568.8 L359.5,571.6" style="stroke-width:2"/>
<path class="d" d="M330.0,578.0 L343.8,575.3"/>
<g transform="translate(365.9 608.4) rotate(-13.5) scale(0.95)"><path d="M4,-3.2 L13,-3 Q15,0 13,3 L4,3.2 Z" fill="#fff" stroke="#000" stroke-width="1.7" stroke-linejoin="round"/><path d="M7,-3 L7.6,3" stroke="#000" stroke-width="1.3" fill="none"/><path d="M10,-3 L10.6,3" stroke="#000" stroke-width="1.3" fill="none"/><path d="M13,-3 L13.6,3" stroke="#000" stroke-width="1.3" fill="none"/><path d="M-5.2,-3 L-2.5,-6 L2.5,-6.2 L5,-3.5 L5.2,3.5 L2.5,6.2 L-2.5,6 L-5.2,3 Z" fill="#fff" stroke="#000" stroke-width="1.9" stroke-linejoin="round"/><path d="M-1.8,-3.5 L-1.8,3.5 M1.6,-3.8 L1.6,3.8" stroke="#000" stroke-width="1.2" fill="none"/></g>
<path class="l" d="M481.1,574.7 C482.3,577.2 485.4,583.9 488.4,589.5 C491.4,595.1 496.1,601.8 498.9,608.4 C501.8,615.1 503.9,622.8 505.3,629.5 C506.7,636.1 506.7,643.5 507.4,648.4 C508.1,653.3 509.1,657.2 509.5,658.9"/>
<path class="l" d="M493.7,574.7 C495.3,577.5 500.2,586.0 503.2,591.6 C506.1,597.2 509.3,602.8 511.6,608.4 C513.9,614.0 515.3,619.3 516.8,625.3 C518.4,631.2 520.5,639.3 521.1,644.2 C521.6,649.1 520.5,651.9 520.0,654.7 C519.5,657.5 518.2,660.0 517.9,661.1"/>
<path class="l" d="M505.3,627.4 L515.8,623.2"/>
<path class="l" d="M508.4,650.5 L520.0,645.3"/>
<path class="l" d="M507.4,663.2 L511.6,660.0 L520.0,661.1 L522.1,664.2 L514.7,669.5 L509.5,668.4 Z" style="stroke-width:1.7"/>
<path class="l" d="M511.6,663.2 L517.9,664.6" style="stroke-width:2.2"/>
<path class="l" d="M482.1,616.8 C483.5,616.7 487.7,616.3 490.5,615.8 C493.3,615.3 497.5,614.0 498.9,613.7"/>
<path class="d" d="M482.1,616.8 C482.5,617.9 484.4,620.7 484.2,623.2 C484.0,625.6 482.5,628.9 481.1,631.6 C479.6,634.2 478.8,637.0 475.8,638.9 C472.8,640.9 465.3,642.5 463.2,643.2"/>
<path class="l" d="M447.5,653.7 L447.5,683.2"/>
<path class="l" d="M400.0,660.0 L442.1,649.5"/>
<path class="l" d="M456.4,665.3 L457.9,668.4 L461.1,669.5"/>
<path class="d" d="M461.1,669.5 L507.4,656.8"/>
<path class="l" d="M526.3,591.6 L526.3,600.0 L531.6,600.0 L532.2,596.8 L543.2,593.7 L544.2,596.8 L554.7,593.7 L554.7,586.3 L548.4,585.3 Z"/>
<path class="l" d="M526.3,591.6 L532.6,592.6 L554.7,586.9"/>
<path class="l" d="M545.3,591.6 L547.4,596.8 L550.5,591.6" style="stroke-width:2"/>
<path class="l" d="M554.7,592.5 L560.0,592.5"/>
<path class="l" d="M554.7,592.5 L584.0,592.5"/>
<g transform="translate(447.4 648.4) rotate(61) scale(0.95)"><path d="M4,-3.2 L12,-3 Q14,0 12,3 L4,3.2 Z" fill="#fff" stroke="#000" stroke-width="1.7" stroke-linejoin="round"/><path d="M7,-3 L7.6,3" stroke="#000" stroke-width="1.3" fill="none"/><path d="M10,-3 L10.6,3" stroke="#000" stroke-width="1.3" fill="none"/><path d="M-5.2,-3 L-2.5,-6 L2.5,-6.2 L5,-3.5 L5.2,3.5 L2.5,6.2 L-2.5,6 L-5.2,3 Z" fill="#fff" stroke="#000" stroke-width="1.9" stroke-linejoin="round"/><path d="M-1.8,-3.5 L-1.8,3.5 M1.6,-3.8 L1.6,3.8" stroke="#000" stroke-width="1.2" fill="none"/></g>
<path class="l" d="M471.3,568.4 C471.4,567.7 472.5,566.3 473.9,566.0 C475.4,565.7 479.3,566.5 482.4,566.4 C485.5,566.3 494.6,565.1 497.1,565.3 C499.6,565.4 500.6,566.7 500.9,567.4 C501.2,568.1 500.7,569.9 499.2,570.5 C497.7,571.2 492.4,571.8 489.7,572.1 C487.1,572.5 481.4,573.2 479.2,573.2 C477.0,573.1 474.5,572.3 473.4,571.7 C472.4,571.1 471.2,569.2 471.3,568.4 Z" style="stroke-width:1.7"/>
<path class="l" d="M478.7,569.2 C480.0,569.0 483.4,568.5 486.6,568.1 C489.7,567.7 495.8,567.1 497.6,566.8"/>
<path class="l" d="M469.7,559.5 C469.9,559.0 471.8,558.0 472.9,557.9 C473.9,557.8 476.1,558.2 477.6,558.9 C479.2,559.7 483.8,562.8 484.5,563.7 C485.2,564.5 483.5,565.2 482.9,565.4 C482.3,565.5 480.6,565.1 479.7,564.7 C478.8,564.4 477.1,563.1 476.1,562.6 C475.0,562.2 472.7,562.0 471.8,561.6 C471.0,561.2 469.6,560.0 469.7,559.5 Z" style="stroke-width:1.6"/>
<path class="l" d="M472.4,560.3 L476.6,561.2"/>
<path class="l" d="M522.5,520.5 C522.1,522.1 521.0,526.3 520.5,530.0 C519.9,533.7 519.8,538.6 519.2,542.6 C518.6,546.7 518.7,551.1 517.1,554.2 C515.5,557.3 511.0,560.0 509.7,561.2"/>
<path class="d" d="M508.2,566.8 L505.9,587.4"/>
<path class="d" d="M108.8,493.0 C109.0,496.2 109.1,506.8 110.0,512.0 C110.9,517.2 112.1,520.8 114.0,524.0 C115.9,527.2 120.3,530.1 121.6,531.3"/>
<path class="l" d="M121.6,531.3 L166.0,557.3"/>
<path class="d" d="M171.0,560.0 L190.0,571.0"/>
<path class="l" d="M223.0,590.5 L239.0,600.0"/>
<path class="d" d="M270.0,617.0 L286.0,627.4"/>
<path class="d" d="M291.0,630.0 L307.0,640.0"/>
<path class="l" d="M312.0,643.0 C316.8,645.6 334.4,655.2 341.0,658.7 C347.6,662.2 348.3,662.9 351.6,664.0 C354.9,665.1 359.3,665.1 360.8,665.3"/>
<path class="d" d="M364.0,665.3 L386.0,663.2"/>
<path class="l" d="M391.0,662.0 L441.0,649.5"/>
<path class="l" d="M245.5,580.0 L276.5,580.0" style="stroke-width:2"/>
<g transform="translate(281.6 579.8) scale(0.9)"><path d="M-6,-1 L-3.5,-5.5 L2.5,-6 L6,-2 L6,3 L2.5,6 L-3,5.5 L-6,2.5 Z" fill="#fff" stroke="#000" stroke-width="1.8" stroke-linejoin="round"/><ellipse cx="0.3" cy="0" rx="3" ry="3.2" fill="none" stroke="#000" stroke-width="1.3"/><path d="M-1.5,-2 L1.5,2.2" stroke="#000" stroke-width="1.1"/></g>
<path class="l" d="M288.0,586.0 L292.4,588.6 L296.0,587.8"/>
<path class="d" d="M296.0,587.8 L349.0,574.5"/>
<path class="d" d="M247.4,410.0 L305.0,394.8"/>
<path class="d" d="M247.4,342.6 L276.0,358.8"/>
<path class="d" d="M226.5,358.0 L224.5,382.0 L223.0,405.0"/>
</g>
<g id="labels">
<text class="t" transform="translate(206.20 188.2) scale(0.9470 1.0)" font-size="21.5" xml:space="preserve">73360</text>
<text class="t" transform="translate(267.28 188.2) scale(0.9470 0.86)" font-size="21.5" xml:space="preserve">B</text>
<text class="t" transform="translate(257.50 218) scale(0.9169 1.0)" font-size="19.5" xml:space="preserve">90084-10013</text>
<text class="t" transform="translate(121.00 246) scale(0.9561 1.0)" font-size="21.5" xml:space="preserve">73371</text>
<text class="t" transform="translate(182.67 246) scale(0.9561 0.86)" font-size="21.5" xml:space="preserve">A</text>
<text class="t" transform="translate(378.50 239) scale(0.9402 0.86)" font-size="19.5" xml:space="preserve">REFER TO</text>
<text class="t" transform="translate(378.50 258) scale(0.9307 0.86)" font-size="19.5" xml:space="preserve">FIG </text>
<text class="t" transform="translate(422.06 258) scale(0.9307 1.0)" font-size="19.5" xml:space="preserve">71-02</text>
<text class="t" transform="translate(374.50 291) scale(0.9402 0.86)" font-size="19.5" xml:space="preserve">REFER TO</text>
<text class="t" transform="translate(374.50 310) scale(0.9354 0.86)" font-size="19.5" xml:space="preserve">FIG </text>
<text class="t" transform="translate(418.28 310) scale(0.9354 1.0)" font-size="19.5" xml:space="preserve">71-02</text>
<text class="t" transform="translate(369.00 329) scale(0.9152 1.0)" font-size="19.5" xml:space="preserve">(</text>
<text class="t" transform="translate(379.71 329) scale(0.9152 0.86)" font-size="19.5" xml:space="preserve">PNC </text>
<text class="t" transform="translate(422.54 329) scale(0.9152 1.0)" font-size="19.5" xml:space="preserve">73373</text>
<text class="t" transform="translate(476.08 329) scale(0.9152 0.86)" font-size="19.5" xml:space="preserve">B</text>
<text class="t" transform="translate(486.79 329) scale(0.9152 1.0)" font-size="19.5" xml:space="preserve">)</text>
<text class="t" transform="translate(49.00 316) scale(0.9207 1.0)" font-size="19.5" xml:space="preserve">90105-</text>
<text class="t" transform="translate(113.64 316) scale(0.9207 0.86)" font-size="19.5" xml:space="preserve">A</text>
<text class="t" transform="translate(124.41 316) scale(0.9207 1.0)" font-size="19.5" xml:space="preserve">0014</text>
<text class="t" transform="translate(511.00 361) scale(0.9535 1.0)" font-size="21.5" xml:space="preserve">73719</text>
<text class="t" transform="translate(178.50 378.5) scale(0.9246 1.0)" font-size="19.5" xml:space="preserve">90105-</text>
<text class="t" transform="translate(243.41 378.5) scale(0.9246 0.86)" font-size="19.5" xml:space="preserve">A</text>
<text class="t" transform="translate(254.23 378.5) scale(0.9246 1.0)" font-size="19.5" xml:space="preserve">0014</text>
<text class="t" transform="translate(400.00 386) scale(0.9158 1.0)" font-size="19.5" xml:space="preserve">90105-</text>
<text class="t" transform="translate(464.29 386) scale(0.9158 0.86)" font-size="19.5" xml:space="preserve">A</text>
<text class="t" transform="translate(475.00 386) scale(0.9158 1.0)" font-size="19.5" xml:space="preserve">0229(3)</text>
<text class="t" transform="translate(33.50 418.5) scale(0.9169 1.0)" font-size="19.5" xml:space="preserve">90084-10013</text>
<text class="t" transform="translate(357.50 440) scale(0.9207 1.0)" font-size="19.5" xml:space="preserve">90080-17195</text>
<text class="t" transform="translate(590.00 430) scale(0.9207 1.0)" font-size="19.5" xml:space="preserve">90105-</text>
<text class="t" transform="translate(654.64 430) scale(0.9207 0.86)" font-size="19.5" xml:space="preserve">A</text>
<text class="t" transform="translate(665.41 430) scale(0.9207 1.0)" font-size="19.5" xml:space="preserve">0014</text>
<text class="t" transform="translate(346.50 464.5) scale(0.9561 1.0)" font-size="21.5" xml:space="preserve">73350</text>
<text class="t" transform="translate(408.17 464.5) scale(0.9561 0.86)" font-size="21.5" xml:space="preserve">C</text>
<text class="t" transform="translate(425.00 479.2) scale(0.9496 1.0)" font-size="21.5" xml:space="preserve">73370</text>
<text class="t" transform="translate(486.25 479.2) scale(0.9496 0.86)" font-size="21.5" xml:space="preserve">B</text>
<text class="t" transform="translate(171.00 518.5) scale(0.9561 1.0)" font-size="21.5" xml:space="preserve">73380</text>
<text class="t" transform="translate(232.67 518.5) scale(0.9561 0.86)" font-size="21.5" xml:space="preserve">A</text>
<text class="t" transform="translate(386.50 505) scale(0.9561 1.0)" font-size="21.5" xml:space="preserve">73380</text>
<text class="t" transform="translate(448.17 505) scale(0.9561 0.86)" font-size="21.5" xml:space="preserve">D</text>
<text class="t" transform="translate(431.50 534.2) scale(0.9380 1.0)" font-size="21.5" xml:space="preserve">73480</text>
<text class="t" transform="translate(175.00 555) scale(0.9246 1.0)" font-size="19.5" xml:space="preserve">90084-10013</text>
<text class="t" transform="translate(597.50 559) scale(0.9207 1.0)" font-size="19.5" xml:space="preserve">90084-10013</text>
<text class="t" transform="translate(127.50 587.5) scale(0.9207 1.0)" font-size="19.5" xml:space="preserve">90179-11020</text>
<text class="t" transform="translate(586.50 599) scale(0.9625 1.0)" font-size="21.5" xml:space="preserve">73371</text>
<text class="t" transform="translate(648.58 599) scale(0.9625 0.86)" font-size="21.5" xml:space="preserve">A</text>
<text class="t" transform="translate(210.00 615) scale(0.9324 1.0)" font-size="19.5" xml:space="preserve">90084-10013</text>
<text class="t" transform="translate(390.00 698.5) scale(0.9324 1.0)" font-size="19.5" xml:space="preserve">90084-10013</text>
<text x="696" y="1094.5" font-family="Liberation Sans, sans-serif" font-size="16" textLength="47.5" lengthAdjust="spacingAndGlyphs" fill="#000">715939</text>
</g>
</svg>
</body></html>
